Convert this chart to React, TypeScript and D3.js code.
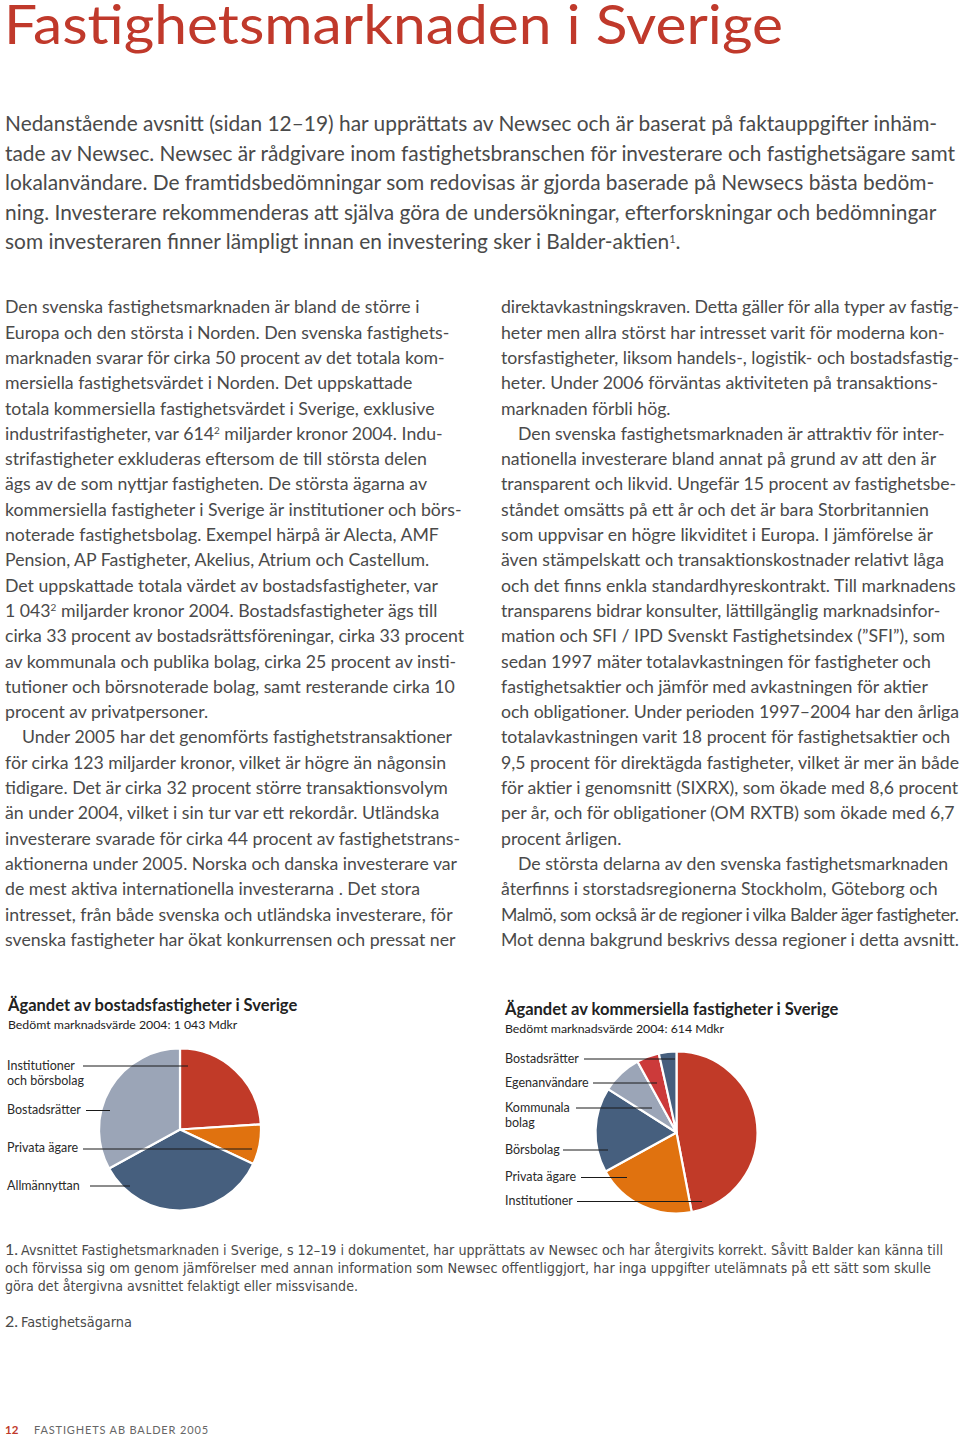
import React, { useLayoutEffect, useRef } from 'react';
import * as d3 from 'd3';

// ---------- DATA ----------
const residentialLabels = ['Institutioner och börsbolag', 'Privata ägare', 'Allmännyttan', 'Bostadsrätter'];
const residentialValues = [24, 8, 35, 33];

const commercialLabels = ['Institutioner', 'Privata ägare', 'Börsbolag', 'Kommunala bolag', 'Egenanvändare', 'Bostadsrätter'];
const commercialValues = [47, 20, 17, 8, 4.5, 3.5];

const pageTitle = 'Fastighetsmarknaden i Sverige';

const introLines = [
  'Nedanstående avsnitt (sidan 12–19) har upprättats av Newsec och är baserat på faktauppgifter inhäm-',
  'tade av Newsec. Newsec är rådgivare inom fastighetsbranschen för investerare och fastighetsägare samt',
  'lokalanvändare. De framtidsbedömningar som redovisas är gjorda baserade på Newsecs bästa bedöm-',
  'ning. Investerare rekommenderas att själva göra de undersökningar, efterforskningar och bedömningar',
  'som investeraren finner lämpligt innan en investering sker i Balder-aktien^1.',
];

// '>' marks an indented first line of a paragraph, ^n a superscript
const leftColumn = [
  'Den svenska fastighetsmarknaden är bland de större i',
  'Europa och den största i Norden. Den svenska fastighets-',
  'marknaden svarar för cirka 50 procent av det totala kom-',
  'mersiella fastighetsvärdet i Norden. Det uppskattade',
  'totala kommersiella fastighetsvärdet i Sverige, exklusive',
  'industrifastigheter, var 614^2 miljarder kronor 2004. Indu-',
  'strifastigheter exkluderas eftersom de till största delen',
  'ägs av de som nyttjar fastigheten. De största ägarna av',
  'kommersiella fastigheter i Sverige är institutioner och börs-',
  'noterade fastighetsbolag. Exempel härpå är Alecta, AMF',
  'Pension, AP Fastigheter, Akelius, Atrium och Castellum.',
  'Det uppskattade totala värdet av bostadsfastigheter, var',
  '1 043^2 miljarder kronor 2004. Bostadsfastigheter ägs till',
  'cirka 33 procent av bostadsrättsföreningar, cirka 33 procent',
  'av kommunala och publika bolag, cirka 25 procent av insti-',
  'tutioner och börsnoterade bolag, samt resterande cirka 10',
  'procent av privatpersoner.',
  '>Under 2005 har det genomförts fastighetstransaktioner',
  'för cirka 123 miljarder kronor, vilket är högre än någonsin',
  'tidigare. Det är cirka 32 procent större transaktionsvolym',
  'än under 2004, vilket i sin tur var ett rekordår. Utländska',
  'investerare svarade för cirka 44 procent av fastighetstrans-',
  'aktionerna under 2005. Norska och danska investerare var',
  'de mest aktiva internationella investerarna . Det stora',
  'intresset, från både svenska och utländska investerare, för',
  'svenska fastigheter har ökat konkurrensen och pressat ner',
];

const rightColumn = [
  'direktavkastningskraven. Detta gäller för alla typer av fastig-',
  'heter men allra störst har intresset varit för moderna kon-',
  'torsfastigheter, liksom handels-, logistik- och bostadsfastig-',
  'heter. Under 2006 förväntas aktiviteten på transaktions-',
  'marknaden förbli hög.',
  '>Den svenska fastighetsmarknaden är attraktiv för inter-',
  'nationella investerare bland annat på grund av att den är',
  'transparent och likvid. Ungefär 15 procent av fastighetsbe-',
  'ståndet omsätts på ett år och det är bara Storbritannien',
  'som uppvisar en högre likviditet i Europa. I jämförelse är',
  'även stämpelskatt och transaktionskostnader relativt låga',
  'och det finns enkla standardhyreskontrakt. Till marknadens',
  'transparens bidrar konsulter, lättillgänglig marknadsinfor-',
  'mation och SFI / IPD Svenskt Fastighetsindex (”SFI”), som',
  'sedan 1997 mäter totalavkastningen för fastigheter och',
  'fastighetsaktier och jämför med avkastningen för aktier',
  'och obligationer. Under perioden 1997–2004 har den årliga',
  'totalavkastningen varit 18 procent för fastighetsaktier och',
  '9,5 procent för direktägda fastigheter, vilket är mer än både',
  'för aktier i genomsnitt (SIXRX), som ökade med 8,6 procent',
  'per år, och för obligationer (OM RXTB) som ökade med 6,7',
  'procent årligen.',
  '>De största delarna av den svenska fastighetsmarknaden',
  'återfinns i storstadsregionerna Stockholm, Göteborg och',
  'Malmö, som också är de regioner i vilka Balder äger fastigheter.',
  'Mot denna bakgrund beskrivs dessa regioner i detta avsnitt.',
];

const residentialTitle = 'Ägandet av bostadsfastigheter i Sverige';
const residentialSubtitle = 'Bedömt marknadsvärde 2004: 1 043 Mdkr';
const commercialTitle = 'Ägandet av kommersiella fastigheter i Sverige';
const commercialSubtitle = 'Bedömt marknadsvärde 2004: 614 Mdkr';

const footnote1 = [
  'Avsnittet Fastighetsmarknaden i Sverige, s 12–19 i dokumentet, har upprättats av Newsec och har återgivits korrekt. Såvitt Balder kan känna till',
  'och förvissa sig om genom jämförelser med annan information som Newsec offentliggjort, har inga uppgifter utelämnats på ett sätt som skulle',
  'göra det återgivna avsnittet felaktigt eller missvisande.',
];
const footnote2 = 'Fastighetsägarna';
const pageNumber = '12';
const footerText = 'FASTIGHETS AB BALDER 2005';

// ---------- STYLE / LAYOUT ----------
const RED = '#c0392b';
const residentialColors = ['#c13a28', '#e0720f', '#465f7e', '#9ba5b7'];
const commercialColors = ['#c13a28', '#e0720f', '#465f7e', '#9ba5b7', '#cc3a3a', '#465f7e'];
const FONT = "Lato, 'Open Sans', sans-serif";
const NARROW = "'Liberation Sans Narrow', 'DejaVu Sans Condensed', sans-serif";
const TEXT = '#4a4a4a';

const residentialLabelLayout = [
  { x: 7, lines: ['Institutioner', 'och börsbolag'], base: 1070, x1: 83, x2: 188, ly: 1066 },
  { x: 7, lines: ['Privata ägare'], base: 1152, x1: 83, x2: 252, ly: 1149 },
  { x: 7, lines: ['Allmännyttan'], base: 1190, x1: 90, x2: 130, ly: 1186 },
  { x: 7, lines: ['Bostadsrätter'], base: 1114, x1: 86, x2: 110, ly: 1110.5 },
];
const commercialLabelLayout = [
  { x: 505, lines: ['Institutioner'], base: 1205, x1: 577, x2: 702, ly: 1201.5 },
  { x: 505, lines: ['Privata ägare'], base: 1181, x1: 581, x2: 627, ly: 1177.5 },
  { x: 505, lines: ['Börsbolag'], base: 1154, x1: 563, x2: 608, ly: 1150 },
  { x: 505, lines: ['Kommunala', 'bolag'], base: 1112, x1: 576, x2: 652, ly: 1108 },
  { x: 505, lines: ['Egenanvändare'], base: 1087, x1: 593, x2: 657, ly: 1083 },
  { x: 505, lines: ['Bostadsrätter'], base: 1063, x1: 584, x2: 675, ly: 1059 },
];

function renderRich(line: string, supSize: number, keyBase: string) {
  const parts = line.split(/(\^\d)/);
  return parts.map((p, i) => {
    if (p.startsWith('^')) {
      return (
        <tspan key={keyBase + i} fontSize={supSize} baselineShift="super">
          {p.slice(1)}
        </tspan>
      );
    }
    return <tspan key={keyBase + i}>{p}</tspan>;
  });
}

function Pie({ values, colors, cx, cy, r, layout, labels }: any) {
  const pie = d3.pie<number>().sort(null).value((d) => d);
  const arc = d3.arc<d3.PieArcDatum<number>>().innerRadius(0).outerRadius(r);
  const arcs = pie(values);
  return (
    <g>
      <g transform={`translate(${cx},${cy})`}>
        {arcs.map((a, i) => (
          <path key={i} d={arc(a) || ''} fill={colors[i]} stroke="#fff" strokeWidth={2.2} strokeLinejoin="round" />
        ))}
      </g>
      {layout.map((l: any, i: number) => (
        <g key={'lab' + i}>
          <text x={l.x} y={l.base} fontFamily={FONT} fontSize={12.5} fill="#2a2a2a">
            {l.lines.map((t: string, j: number) => (
              <tspan key={j} x={l.x} dy={j === 0 ? 0 : 15}>
                {t}
              </tspan>
            ))}
          </text>
          <line x1={l.x1} x2={l.x2} y1={l.ly} y2={l.ly} stroke="#1a1a1a" strokeWidth={1} />
          <title>{labels[i]}</title>
        </g>
      ))}
    </g>
  );
}

export default function App() {
  const svgRef = useRef<SVGSVGElement>(null);
  const colBase = 313.3;
  const colStep = 25.3;
  const introBase = 131;
  const introStep = 29.6;

  // keep lines inside their column: squeeze spacing of any line longer than the column
  useLayoutEffect(() => {
    const svg = svgRef.current;
    if (!svg) return;
    svg.querySelectorAll<SVGTextElement>('text[data-max]').forEach((t) => {
      const max = parseFloat(t.getAttribute('data-max') || '0');
      const w = t.getComputedTextLength();
      if (w > max) {
        t.setAttribute('textLength', String(max));
        t.setAttribute('lengthAdjust', 'spacing');
      }
    });
  }, []);

  const column = (lines: string[], x0: number, right: number) =>
    lines.map((raw, i) => {
      const indent = raw.startsWith('>');
      const line = indent ? raw.slice(1) : raw;
      const x = x0 + (indent ? 17 : 0);
      return (
        <text key={x0 + '-' + i} data-max={right - x} x={x} y={colBase + i * colStep} fontFamily={FONT} fontSize={17.7} fill={TEXT}>
          {renderRich(line, 10, 'c' + i)}
        </text>
      );
    });

  return (
    <div style={{ position: 'absolute', left: 0, top: 0, width: 960, height: 1438, background: '#fff' }}>
      <svg ref={svgRef} width={960} height={1438} viewBox="0 0 960 1438" style={{ display: 'block' }}>
        <rect x={0} y={0} width={960} height={1438} fill="#fff" />
        <text x={4} y={43.5} fontFamily={FONT} fontSize={54} fill={RED} textLength={779} lengthAdjust="spacingAndGlyphs">
          {pageTitle}
        </text>

        {introLines.map((l, i) => (
          <text key={'i' + i} data-max={950} x={5} y={introBase + i * introStep} fontFamily={FONT} fontSize={20.9} fill={TEXT}>
            {renderRich(l, 11, 'i' + i)}
          </text>
        ))}

        {column(leftColumn, 5, 464)}
        {column(rightColumn, 501, 959)}

        <text x={8} y={1011} fontFamily={FONT} fontSize={16.5} fontWeight="bold" fill="#222">
          {residentialTitle}
        </text>
        <text x={8} y={1029} fontFamily={FONT} fontSize={12.3} fill="#222">
          {residentialSubtitle}
        </text>
        <text x={505} y={1015} fontFamily={FONT} fontSize={16.5} fontWeight="bold" fill="#222">
          {commercialTitle}
        </text>
        <text x={505} y={1033} fontFamily={FONT} fontSize={12.3} fill="#222">
          {commercialSubtitle}
        </text>

        <Pie values={residentialValues} colors={residentialColors} cx={180} cy={1129.5} r={81} layout={residentialLabelLayout} labels={residentialLabels} />
        <Pie values={commercialValues} colors={commercialColors} cx={676.5} cy={1132.5} r={81} layout={commercialLabelLayout} labels={commercialLabels} />

        <text x={5} y={1255} fontFamily={FONT} fontSize={16} fill={TEXT}>1.</text>
        <text x={21} y={1255} fontFamily={NARROW} fontSize={13.2} fill={TEXT} textLength={922} lengthAdjust="spacingAndGlyphs">
          {footnote1[0]}
        </text>
        <text x={5} y={1273} fontFamily={NARROW} fontSize={13.2} fill={TEXT} textLength={926} lengthAdjust="spacingAndGlyphs">
          {footnote1[1]}
        </text>
        <text x={5} y={1291} fontFamily={NARROW} fontSize={13.2} fill={TEXT} textLength={353} lengthAdjust="spacingAndGlyphs">
          {footnote1[2]}
        </text>
        <text x={5} y={1327} fontFamily={FONT} fontSize={16} fill={TEXT}>2.</text>
        <text x={21} y={1327} fontFamily={NARROW} fontSize={13.2} fill={TEXT} textLength={111} lengthAdjust="spacingAndGlyphs">
          {footnote2}
        </text>

        <text x={5} y={1434} fontFamily={FONT} fontSize={11.5} fontWeight="bold" fill={RED}>
          {pageNumber}
        </text>
        <text x={34} y={1434} fontFamily={FONT} fontSize={11} fill="#666" letterSpacing={0.85}>
          {footerText}
        </text>
      </svg>
    </div>
  );
}
